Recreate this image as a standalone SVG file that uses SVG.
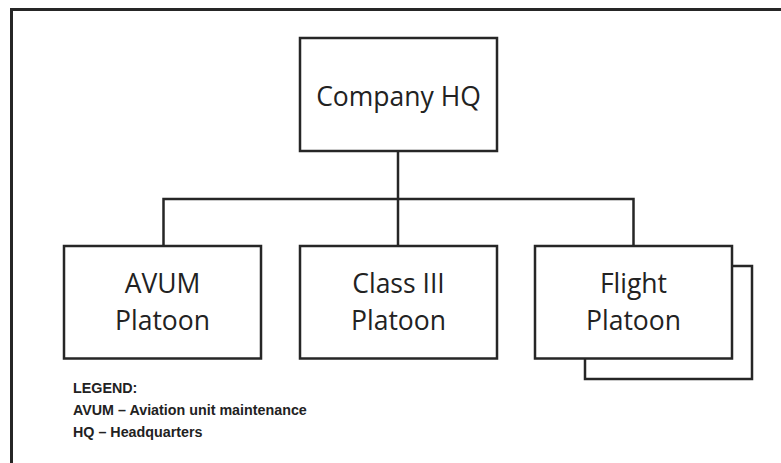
<svg xmlns="http://www.w3.org/2000/svg" width="781" height="463" viewBox="0 0 781 463">
  <style>
    .box { fill: #ffffff; stroke: #262626; stroke-width: 2.5; }
    .lbl { font-family: "Open Sans", "Noto Sans", sans-serif; font-size: 26.5px; fill: #222222; text-anchor: middle; }
    .leg { font-family: "Liberation Sans", Arial, sans-serif; font-size: 14.3px; font-weight: bold; fill: #222222; }
    .conn { fill: none; stroke: #262626; stroke-width: 2.5; }
  </style>
  <rect x="0" y="0" width="781" height="463" fill="#ffffff"/>
  <g id="frame">
    <path d="M11.5,463 V9.5 H781" fill="none" stroke="#262626" stroke-width="3"/>
  </g>
  <g id="connectors">
    <path class="conn" d="M398,151 V199"/>
    <path class="conn" d="M163.5,246 V199 H633.5 V246"/>
    <path class="conn" d="M398,199 V246"/>
  </g>
  <g id="company-hq">
    <rect class="box" x="300" y="38" width="197" height="113"/>
    <text class="lbl" x="398.5" y="106">Company HQ</text>
  </g>
  <g id="avum-platoon">
    <rect class="box" x="64" y="246" width="197" height="112.5"/>
    <text class="lbl" x="162.5" y="293">AVUM</text>
    <text class="lbl" x="162.5" y="330">Platoon</text>
  </g>
  <g id="class-iii-platoon">
    <rect class="box" x="300" y="246" width="197" height="112.5"/>
    <text class="lbl" x="398.5" y="293">Class III</text>
    <text class="lbl" x="398.5" y="330">Platoon</text>
  </g>
  <g id="flight-platoon">
    <rect class="box" x="585" y="266" width="167" height="113"/>
    <rect class="box" x="535" y="246" width="197" height="112.5"/>
    <text class="lbl" x="633.5" y="293">Flight</text>
    <text class="lbl" x="633.5" y="330">Platoon</text>
  </g>
  <g id="legend">
    <text class="leg" x="73" y="393">LEGEND:</text>
    <text class="leg" x="73" y="415">AVUM – Aviation unit maintenance</text>
    <text class="leg" x="73" y="437">HQ – Headquarters</text>
  </g>
</svg>
